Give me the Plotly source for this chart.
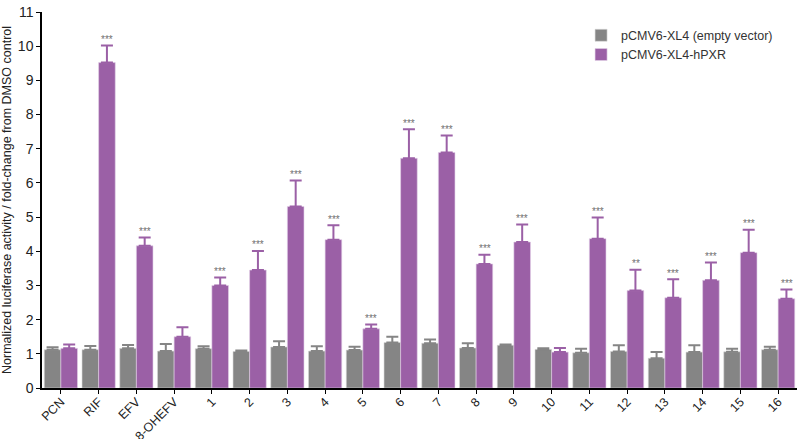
import plotly.graph_objects as go

categories = ["PCN", "RIF", "EFV", "8-OHEFV", "1", "2", "3", "4", "5", "6",
              "7", "8", "9", "10", "11", "12", "13", "14", "15", "16"]

empty_vals = [1.12, 1.12, 1.16, 1.08, 1.15, 1.07, 1.20, 1.08, 1.11, 1.33,
              1.31, 1.17, 1.25, 1.13, 1.03, 1.07, 0.87, 1.05, 1.06, 1.12]
empty_err = [0.07, 0.11, 0.10, 0.21, 0.07, 0.03, 0.17, 0.14, 0.10, 0.17,
             0.11, 0.14, 0.02, 0.03, 0.12, 0.18, 0.18, 0.20, 0.09, 0.09]

pxr_vals = [1.16, 9.52, 4.16, 1.50, 3.00, 3.45, 5.31, 4.34, 1.73, 6.72,
            6.89, 3.63, 4.27, 1.05, 4.37, 2.85, 2.64, 3.15, 3.96, 2.61]
pxr_err = [0.11, 0.50, 0.24, 0.28, 0.23, 0.56, 0.76, 0.42, 0.13, 0.85,
           0.50, 0.27, 0.51, 0.12, 0.62, 0.61, 0.54, 0.52, 0.67, 0.27]

stars = ["", "***", "***", "", "***", "***", "***", "***", "***", "***",
         "***", "***", "***", "", "***", "**", "***", "***", "***", "***"]

GRAY = "#858585"
PURPLE = "#9B60A6"

fig = go.Figure()
fig.add_trace(go.Bar(
    x=categories, y=empty_vals, name="pCMV6-XL4 (empty vector)",
    marker=dict(color=GRAY, line=dict(color="#d8d8d8", width=0.6)),
    error_y=dict(type="data", array=empty_err, arrayminus=[0] * len(empty_err),
                 symmetric=False, color=GRAY, thickness=2, width=6),
))
fig.add_trace(go.Bar(
    x=categories, y=pxr_vals, name="pCMV6-XL4-hPXR",
    marker=dict(color=PURPLE, line=dict(color="#e3d0e7", width=0.6)),
    error_y=dict(type="data", array=pxr_err, arrayminus=[0] * len(pxr_err),
                 symmetric=False, color=PURPLE, thickness=2, width=6),
))

# significance stars above the hPXR bars (x given as category index)
for i, (v, e, s) in enumerate(zip(pxr_vals, pxr_err, stars)):
    if s:
        fig.add_annotation(x=i, y=v + e, text=s, showarrow=False,
                           xref="x", yref="y", xshift=8.5, yshift=6,
                           font=dict(size=10, color="#707070", family="Liberation Sans"))

fig.update_layout(
    width=800, height=439,
    margin=dict(l=42, r=3, t=12, b=50.5),
    paper_bgcolor="white", plot_bgcolor="white",
    barmode="group", bargap=0.12, bargroupgap=0,
    font=dict(family="Liberation Sans, Arial, sans-serif", color="#222"),
    legend=dict(x=0.714, y=0.977, xanchor="left", yanchor="top",
                font=dict(size=12.5, color="#333"), bgcolor="rgba(0,0,0,0)",
                itemwidth=30),
    showlegend=True,
)
fig.update_xaxes(
    type="category", automargin=False,
    showline=True, linecolor="black", linewidth=1.5,
    ticks="outside", ticklen=4, tickcolor="black",
    tickangle=-45, tickfont=dict(size=12.5, color="#222"),
    ticklabelstandoff=-4, ticklabeloverflow="allow",
    range=[-0.5, 19.5],
)
fig.update_yaxes(
    range=[0, 11], dtick=1, showgrid=False, zeroline=False,
    showline=True, linecolor="black", linewidth=1.5,
    ticks="outside", ticklen=4, tickcolor="black",
    tickfont=dict(size=14, color="#222"), ticklabeloverflow="allow",
    title=dict(text="Normalized luciferase activity / fold-change from DMSO control",
               font=dict(size=12.5, color="#222"), standoff=4),
)

# the page keeps the browser's default 8px body margin otherwise
fig.write_html("out.html", config={"displayModeBar": False},
               post_script="document.body.style.margin = '0';")
